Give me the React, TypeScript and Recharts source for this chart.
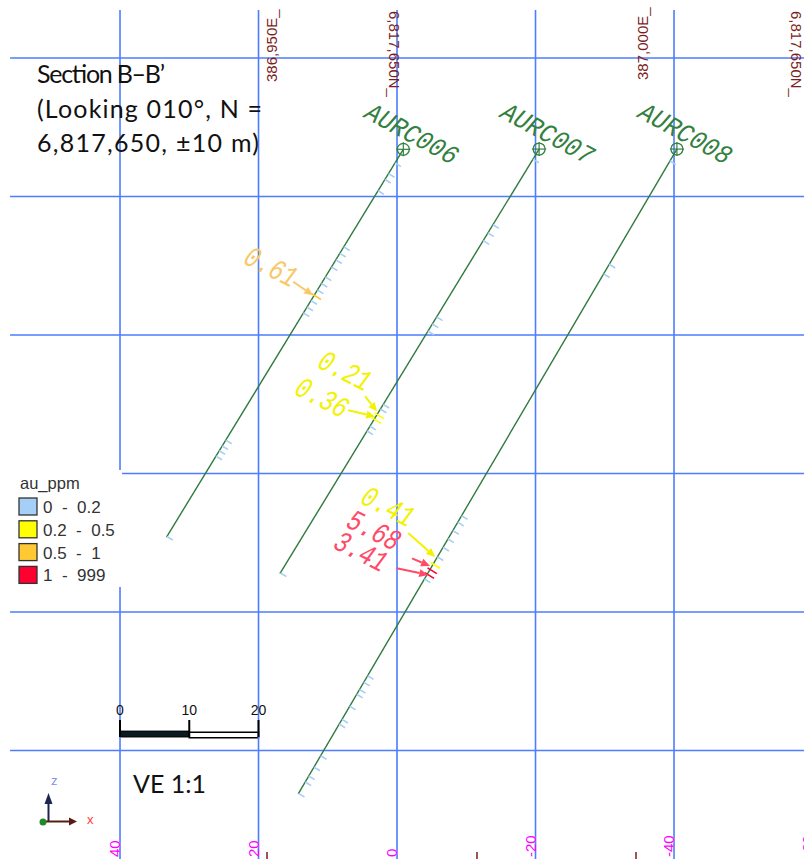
import React from 'react';
import { ComposedChart, Scatter, XAxis, YAxis, ReferenceLine, ReferenceArea } from 'recharts';

// ---------- data (section metres, elevation metres relative) ----------
const sectionTicks = [40, 20, 0, -20, -40, -60];
const gridX = [40, 20, 0, -20, -40];
const gridZ = [0, -20, -40, -60, -80, -100];

const holeIds = ['AURC006', 'AURC007', 'AURC008'];
const collarX = [-0.91, -20.52, -40.42];
const collarZ = [-13.19, -13.15, -13.15];
const toeX = [33.28, 16.91, 14.26];
const toeZ = [-69.18, -74.47, -106.26];

// downhole depths (m) of low-grade (0 - 0.2 ppm) sample intervals
const lowDepths006 = [2.3, 4.1, 5.1, 7.0, 16.5, 17.6, 18.7, 19.9, 21.6, 22.7, 23.8, 25.6, 26.7, 27.7, 49.2, 50.2, 51.0, 51.9, 65.5];
const lowDepths007 = [1.7, 12.8, 14.2, 15.5, 28.4, 29.6, 30.8, 43.2, 44.0, 46.9, 47.7, 71.7];
const lowDepths008 = [2.0, 19.3, 20.9, 61.4, 62.5, 63.9, 65.3, 66.7, 68.3, 72.0, 88.2, 89.3, 90.5, 91.3, 93.3, 95.5, 96.3, 101.6, 103.5, 105.0, 106.0, 107.9];

// labelled assays
const assayHole = [0, 1, 1, 2, 2, 2];
const assayDepth = [24.7, 44.9, 45.7, 69.5, 70.4, 71.2];
const assayAu = [0.61, 0.21, 0.36, 0.41, 5.68, 3.41];

// legend bins
const binLabels = ['0  -  0.2', '0.2  -  0.5', '0.5  -  1', '1  -  999'];
const binMin = [0, 0.2, 0.5, 1];
const binColors = ['#a6cff7', '#ffff00', '#ffc933', '#ff0030'];

const scaleBarMetres = [0, 10, 20];

// ---------- layout / style ----------
const W = 804;
const H = 859;
const X_DOMAIN: [number, number] = [-58.77, 57.33];
const Z_DOMAIN: [number, number] = [-115.67, 8.375];
const GRID_TOP_Z = 6.93;
const GRID_LEFT_X = 55.88;
const GRID_COLOR = '#4d7dff';
const TRACE_COLOR = '#2f7a3d';
const LABEL_GREEN = '#33803f';
const annLabelColors = ['#a6cff7', '#f2f200', '#f8c868', '#ff4a68'];
// offsets (px) relative to the sample point: text centre, arrow start, arrow end
const annText = [[-44, -27], [-33, -42], [-53, -20], [-46, -56], [-57, -37.5], [-67, -21]];
const annFrom = [[-21, -13.6], [-12, -18], [-26, -9], [-25, -31], [-18, -11], [-30.5, -6]];
const annTo = [[-1, 0], [0, -3], [1, -2.5], [2, -7], [0, -3.5], [1, 0.7]];
const SCALE_ORIGIN_X = 40;
const SCALE_TOP_Z = -95.6;

// ---------- helpers ----------
function binIndex(au: number) {
  let idx = 0;
  binMin.forEach((m, i) => {
    if (au >= m) idx = i;
  });
  return idx;
}

function holePoint(h: number, depth: number) {
  const dx = toeX[h] - collarX[h];
  const dz = toeZ[h] - collarZ[h];
  const L = Math.hypot(dx, dz);
  return { x: collarX[h] + (dx * depth) / L, z: collarZ[h] + (dz * depth) / L };
}

const lowDepths = [lowDepths006, lowDepths007, lowDepths008];
const sampleData = lowDepths.flatMap((arr, h) =>
  arr.map((d) => ({ ...holePoint(h, d), color: binColors[0], assay: false }))
).concat(
  assayDepth.map((d, i) => ({ ...holePoint(assayHole[i], d), color: binColors[binIndex(assayAu[i])], assay: true }))
);

const annotationData = assayDepth.map((d, i) => ({
  ...holePoint(assayHole[i], d),
  idx: i,
  label: assayAu[i].toFixed(2),
  bin: binIndex(assayAu[i]),
}));

const traceData = holeIds.map((id, h) => [
  { x: collarX[h], z: collarZ[h] },
  { x: toeX[h], z: toeZ[h] },
]);

const collarData = holeIds.map((id, h) => ({ x: collarX[h], z: collarZ[h], id }));

const scaleData = scaleBarMetres.map((m) => ({ x: SCALE_ORIGIN_X - m, z: SCALE_TOP_Z, label: String(m) }));

const sectionLabelData = sectionTicks.map((t) => ({ x: t, z: Z_DOMAIN[0], label: String(t) }));

// ---------- shapes ----------
const NoShape = () => <g />;

const SampleTick = (p: any) => {
  const { cx, cy, payload } = p;
  const back = payload.assay ? 3 : 0;
  const len = payload.assay ? 8 : 7;
  return (
    <line
      x1={cx - back * 0.85}
      y1={cy - back * 0.52}
      x2={cx + len * 0.85}
      y2={cy + len * 0.52}
      stroke={payload.color}
      strokeWidth={1.6}
    />
  );
};

const CollarShape = (p: any) => {
  const { cx, cy, payload } = p;
  return (
    <g>
      <circle cx={cx} cy={cy} r={6} fill="none" stroke={LABEL_GREEN} strokeWidth={1.3} />
      <line x1={cx - 7} y1={cy} x2={cx + 7} y2={cy} stroke={LABEL_GREEN} strokeWidth={1.2} />
      <line x1={cx} y1={cy - 7} x2={cx} y2={cy + 7} stroke={LABEL_GREEN} strokeWidth={1.2} />
      <text
        transform={`translate(${cx + 7.5} ${cy - 14}) rotate(28.5) scale(1 1.12) skewX(-14)`}
        textAnchor="middle"
        dominantBaseline="central"
        fontFamily="Liberation Mono, DejaVu Sans Mono, monospace"
        fontSize={24}
        fill={LABEL_GREEN}
      >
        {payload.id}
      </text>
    </g>
  );
};

function Arrow({ x1, y1, x2, y2, color }: any) {
  const ang = Math.atan2(y2 - y1, x2 - x1);
  const hl = 9;
  const hw = 4;
  const bx = x2 - hl * Math.cos(ang);
  const by = y2 - hl * Math.sin(ang);
  const px = -Math.sin(ang) * hw;
  const py = Math.cos(ang) * hw;
  return (
    <g>
      <line x1={x1} y1={y1} x2={bx} y2={by} stroke={color} strokeWidth={2} />
      <polygon points={`${x2},${y2} ${bx + px},${by + py} ${bx - px},${by - py}`} fill={color} />
    </g>
  );
}

const AnnotationShape = (p: any) => {
  const { cx, cy, payload } = p;
  const i = payload.idx;
  const color = annLabelColors[payload.bin];
  const tx = cx + annText[i][0];
  const ty = cy + annText[i][1];
  return (
    <g>
      <Arrow x1={cx + annFrom[i][0]} y1={cy + annFrom[i][1]} x2={cx + annTo[i][0]} y2={cy + annTo[i][1]} color={color} />
      <text
        transform={`translate(${tx} ${ty}) rotate(27) scale(1 1.3) skewX(-12)`}
        textAnchor="middle"
        dominantBaseline="central"
        fontFamily="Liberation Mono, DejaVu Sans Mono, monospace"
        fontSize={23}
        fill={color}
      >
        {payload.label}
      </text>
    </g>
  );
};

const ScaleTickShape = (p: any) => {
  const { cx, cy, payload } = p;
  return (
    <g>
      <line x1={cx} y1={cy} x2={cx} y2={cy + 17} stroke="#000" strokeWidth={2} />
      <text x={cx} y={cy - 5} textAnchor="middle" fontFamily="Liberation Sans, Arial" fontSize={14} fill="#111">
        {payload.label}
      </text>
    </g>
  );
};

const SectionLabelShape = (p: any) => {
  const { cx, cy, payload } = p;
  const y = cy - 2;
  return (
    <text
      x={cx}
      y={y}
      transform={`rotate(-90 ${cx} ${y})`}
      fill="#ff00ff"
      fontSize={15}
      fontFamily="Liberation Sans, Arial"
      textAnchor="start"
    >
      {payload.label}
    </text>
  );
};

// ---------- overlay (title, legend, coordinate labels, triad) ----------
function Overlay() {
  const coordColor = '#7c1d1d';
  const f = 'Liberation Sans, Arial, sans-serif';
  return (
    <svg width={W} height={H} style={{ position: 'absolute', left: 0, top: 0, pointerEvents: 'none' }}>
      <g fontFamily="Lato, sans-serif" fontSize={25} fill="#111">
        <text x={37} y={83} textLength={128} lengthAdjust="spacing">Section B–B’</text>
        <text x={37} y={118} textLength={225} lengthAdjust="spacing">(Looking 010°, N =</text>
        <text x={37} y={152} textLength={222} lengthAdjust="spacing">6,817,650, ±10 m)</text>
      </g>
      <g fontFamily={f} fontSize={15} fill={coordColor}>
        <text x={277} y={82} transform="rotate(-90 277 82)">386,950E_</text>
        <text x={648} y={80} transform="rotate(-90 648 80)">387,000E_</text>
        <text x={389} y={11} transform="rotate(90 389 11)">6,817,650N_</text>
        <text x={791} y={11} transform="rotate(90 791 11)">6,817,650N_</text>
      </g>
      <g stroke={coordColor} strokeWidth={1.5}>
        <line x1={267} y1={852} x2={267} y2={859} />
        <line x1={477} y1={852} x2={477} y2={859} />
        <line x1={636} y1={852} x2={636} y2={859} />
      </g>
      {/* legend */}
      <rect x={8} y={470} width={114} height={117} fill="#fff" />
      <text x={20} y={489} fontFamily={f} fontSize={16.5} fill="#333">au_ppm</text>
      {binLabels.map((lab, i) => (
        <g key={lab}>
          <rect x={19} y={498 + i * 22.8} width={18} height={17} fill={binColors[i]} stroke="#333" strokeWidth={1.3} />
          <text x={43} y={513 + i * 22.8} fontFamily={f} fontSize={17} fill="#333" style={{ whiteSpace: 'pre' }}>
            {lab}
          </text>
        </g>
      ))}
      {/* VE */}
      <text x={133} y={793} fontFamily="Lato, sans-serif" fontSize={25} fill="#111">VE 1:1</text>
      {/* axis triad */}
      <line x1={48.5} y1={822} x2={48.5} y2={802} stroke="#1c2450" strokeWidth={2} />
      <polygon points="44.5,804 52.5,804 48.5,793" fill="#1c2450" />
      <line x1={43} y1={821.5} x2={69} y2={821.5} stroke="#5a1a14" strokeWidth={2} />
      <polygon points="69,817.5 69,825.5 77,821.5" fill="#5a1a14" />
      <circle cx={43} cy={822} r={3.5} fill="#1f8a2a" />
      <text x={51} y={785} fontFamily={f} fontSize={13} fill="#8c8cf5">z</text>
      <text x={87} y={824} fontFamily={f} fontSize={13} fill="#ff3b3b">x</text>
    </svg>
  );
}

export default function App() {
  return (
    <div style={{ position: 'absolute', left: 0, top: 0, width: W, height: H, background: '#fff', overflow: 'hidden' }}>
      <ComposedChart width={W} height={H} margin={{ top: 0, right: 0, bottom: 0, left: 0 }}>
        <XAxis type="number" dataKey="x" domain={X_DOMAIN} reversed allowDataOverflow hide />
        <YAxis type="number" dataKey="z" domain={Z_DOMAIN} allowDataOverflow hide />
        {gridX.map((x) => (
          <ReferenceLine
            key={'gx' + x}
            segment={[{ x, y: GRID_TOP_Z }, { x, y: Z_DOMAIN[0] }]}
            stroke={GRID_COLOR}
            strokeWidth={1.6}
            ifOverflow="visible"
          />
        ))}
        {gridZ.map((z) => (
          <ReferenceLine
            key={'gz' + z}
            segment={[{ x: GRID_LEFT_X, y: z }, { x: X_DOMAIN[0], y: z }]}
            stroke={GRID_COLOR}
            strokeWidth={1.6}
            ifOverflow="visible"
          />
        ))}
        <ReferenceArea x1={40} x2={30} y1={-97.2} y2={-98.05} fill="#0b1a20" fillOpacity={1} stroke="#000" ifOverflow="visible" />
        <ReferenceArea x1={30} x2={20} y1={-97.35} y2={-98.15} fill="#fff" fillOpacity={1} stroke="#000" strokeWidth={1.5} ifOverflow="visible" />
        <Scatter data={scaleData} shape={<ScaleTickShape />} isAnimationActive={false} />
        <Scatter data={sectionLabelData} shape={<SectionLabelShape />} isAnimationActive={false} />
        {traceData.map((d, h) => (
          <Scatter
            key={holeIds[h]}
            data={d}
            line={{ stroke: TRACE_COLOR, strokeWidth: 1.4 }}
            shape={<NoShape />}
            isAnimationActive={false}
          />
        ))}
        <Scatter data={sampleData} shape={<SampleTick />} isAnimationActive={false} />
        <Scatter data={collarData} shape={<CollarShape />} isAnimationActive={false} />
        <Scatter data={annotationData} shape={<AnnotationShape />} isAnimationActive={false} />
      </ComposedChart>
      <Overlay />
    </div>
  );
}
